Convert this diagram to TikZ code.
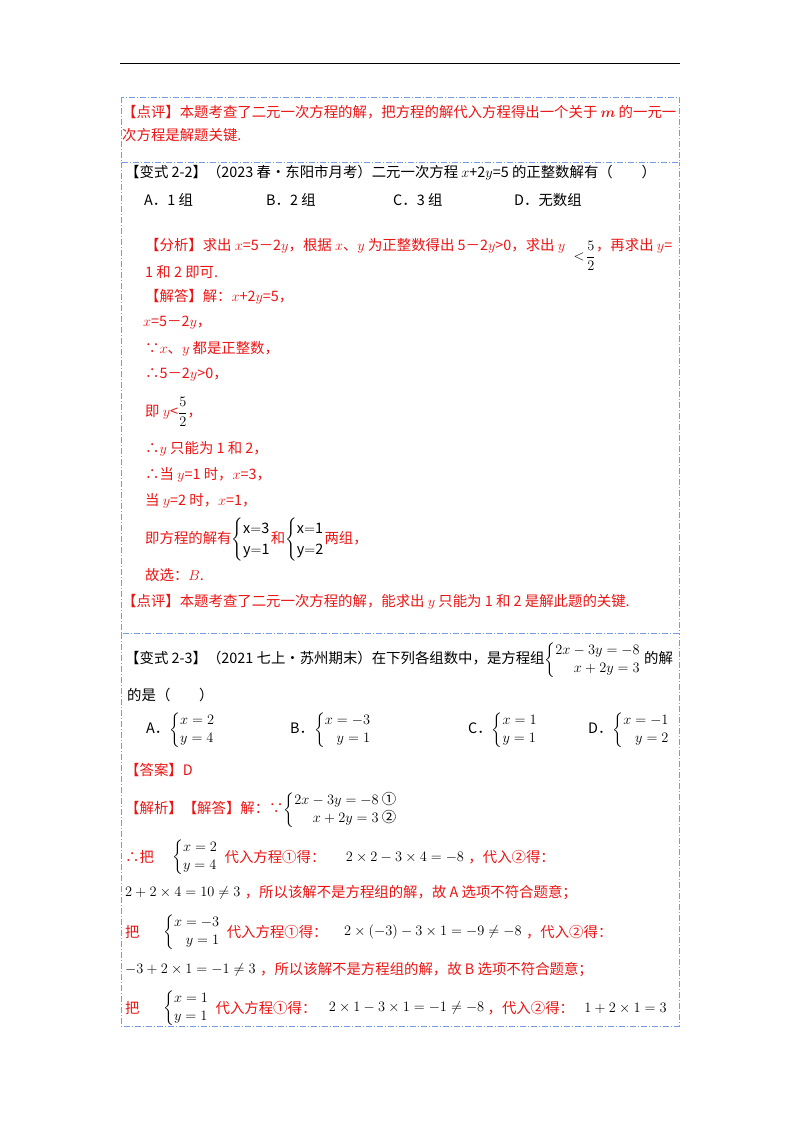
\documentclass[tikz,border=0pt]{standalone}
\usepackage{amsmath}
\usepackage{fontspec}
\setmainfont{Noto Sans CJK SC}
\definecolor{rd}{RGB}{235,20,20}
\definecolor{bx}{RGB}{120,155,225}
\begin{document}
\begin{tikzpicture}[x=1pt,y=-1pt,
  t/.style={anchor=west,inner sep=0pt,font=\Large},
  r/.style={t,text=rd},
  box/.style={draw=bx,line width=0.8pt,dash pattern=on 6pt off 2pt on 1pt off 2pt}]
\useasboundingbox (0,0) rectangle (800,1132);
\draw[line width=0.8pt] (120,63) -- (680,63);
\draw[box] (121,97) rectangle (679,162);
\draw[box] (121,162) -- (121,633) -- (679,633) -- (679,162);
\draw[box] (121,633) -- (121,1026) -- (679,1026) -- (679,633);
% box 1
\node[r] (a1) at (122,112) {【点评】本题考查了二元一次方程的解，把方程的解代入方程得出一个关于 $\boldsymbol{m}$ 的一元一};
\node[r] (a2) at (122,135) {次方程是解题关键.};
% box 2
\node[t] (b1) at (125,173) {【变式 2-2】（2023 春•东阳市月考）二元一次方程 $x$+2$y$=5 的正整数解有（\quad\quad）};
\node[t] (oa) at (144,200) {A．1 组};
\node[t] (ob) at (266,200) {B．2 组};
\node[t] (oc) at (393,200) {C．3 组};
\node[t] (od) at (514,200) {D．无数组};
\node[r] (c1) at (145,246) {【分析】求出 $x$=5－2$y$，根据 $x$、$y$ 为正整数得出 5－2$y$>0，求出 $y$};
\node[t] (c1f) at ([xshift=8pt,yshift=-10pt]c1.east) {$<\!\dfrac{5}{2}$};
\node[r] (c1b) at (c1f.east |- c1.west) {，再求出 $y$=};
\node[r] (c2) at (145,272) {1 和 2 即可.};
\node[r] (c3) at (145,297) {【解答】解：$x$+2$y$=5，};
\node[r] (c4) at (143,323) {$x$=5－2$y$，};
\node[r] (c5) at (145,349) {∵$x$、$y$ 都是正整数，};
\node[r] (c6) at (145,375) {∴5－2$y$>0，};
\node[r] (c7) at (145,412) {即 $y$<\textcolor{black}{$\dfrac{5}{2}$}，};
\node[r] (c8) at (145,449) {∴$y$ 只能为 1 和 2，};
\node[r] (c9) at (145,475) {∴当 $y$=1 时，$x$=3，};
\node[r] (c10) at (145,501) {当 $y$=2 时，$x$=1，};
\node[r] (c11) at (145,540) {即方程的解有\textcolor{black}{$\left\{\begin{array}{@{}l@{}}\mathrm{x{=}3}\\[3pt] \mathrm{y{=}1}\end{array}\right.$}和\textcolor{black}{$\left\{\begin{array}{@{}l@{}}\mathrm{x{=}1}\\[3pt] \mathrm{y{=}2}\end{array}\right.$}两组，};
\node[r] (c12) at (145,575) {故选：$B$.};
\node[r] (c13) at (122,602) {【点评】本题考查了二元一次方程的解，能求出 $y$ 只能为 1 和 2 是解此题的关键.};
% box 3
\node[t] (d1) at (125,660) {【变式 2-3】（2021 七上·苏州期末）在下列各组数中，是方程组$\left\{\begin{array}{@{}r@{}}2x-3y=-8\\ x+2y=3\end{array}\right.$\ 的解};
\node[t] (d2) at (127,695) {的是（\quad\quad）};
\node[t] (ea) at (146,730) {A．$\left\{\begin{array}{@{}l@{}}x=2\\ y=4\end{array}\right.$};
\node[t] (eb) at (290,730) {B．$\left\{\begin{array}{@{}r@{}}x=-3\\ y=1\end{array}\right.$};
\node[t] (ec) at (468,730) {C．$\left\{\begin{array}{@{}l@{}}x=1\\ y=1\end{array}\right.$};
\node[t] (ed) at (588,730) {D．$\left\{\begin{array}{@{}r@{}}x=-1\\ y=2\end{array}\right.$};
\node[r] (f1) at (125,770) {【答案】D};
\node[r] (f2) at (125,810) {【解析】【解答】解：∵\textcolor{black}{$\left\{\begin{array}{@{}r@{}}2x-3y=-8\ \mbox{①}\\ x+2y=3\ \mbox{②}\end{array}\right.$}};
\node[r] (g1) at (125,857) {∴把};
\node[t] (g1s) at (172,857) {$\left\{\begin{array}{@{}l@{}}x=2\\ y=4\end{array}\right.$};
\node[r] (g1t) at ([xshift=6pt]g1s.east) {代入方程①得：};
\node[t] (g1m) at ([xshift=20pt]g1t.east) {$2\times2-3\times4=-8$};
\node[r] (g1u) at ([xshift=4pt]g1m.east) {，代入②得：};
\node[t] (g2) at (125,893) {$2+2\times4=10\neq3$};
\node[r] (g2t) at ([xshift=4pt]g2.east) {，所以该解不是方程组的解，故 A 选项不符合题意；};
\node[r] (g3) at (125,932) {把};
\node[t] (g3s) at (163,932) {$\left\{\begin{array}{@{}r@{}}x=-3\\ y=1\end{array}\right.$};
\node[r] (g3t) at ([xshift=6pt]g3s.east) {代入方程①得：};
\node[t] (g3m) at ([xshift=16pt]g3t.east) {$2\times(-3)-3\times1=-9\neq-8$};
\node[r] (g3u) at ([xshift=4pt]g3m.east) {，代入②得：};
\node[t] (g4) at (125,970) {$-3+2\times1=-1\neq3$};
\node[r] (g4t) at ([xshift=4pt]g4.east) {，所以该解不是方程组的解，故 B 选项不符合题意；};
\node[r] (g5) at (125,1008) {把};
\node[t] (g5s) at (163,1008) {$\left\{\begin{array}{@{}l@{}}x=1\\ y=1\end{array}\right.$};
\node[r] (g5t) at ([xshift=6pt]g5s.east) {代入方程①得：};
\node[t] (g5m) at ([xshift=12pt]g5t.east) {$2\times1-3\times1=-1\neq-8$};
\node[r] (g5u) at ([xshift=3pt]g5m.east) {，代入②得：};
\node[t] (g5v) at ([xshift=10pt]g5u.east) {$1+2\times1=3$};
\end{tikzpicture}
\end{document}
